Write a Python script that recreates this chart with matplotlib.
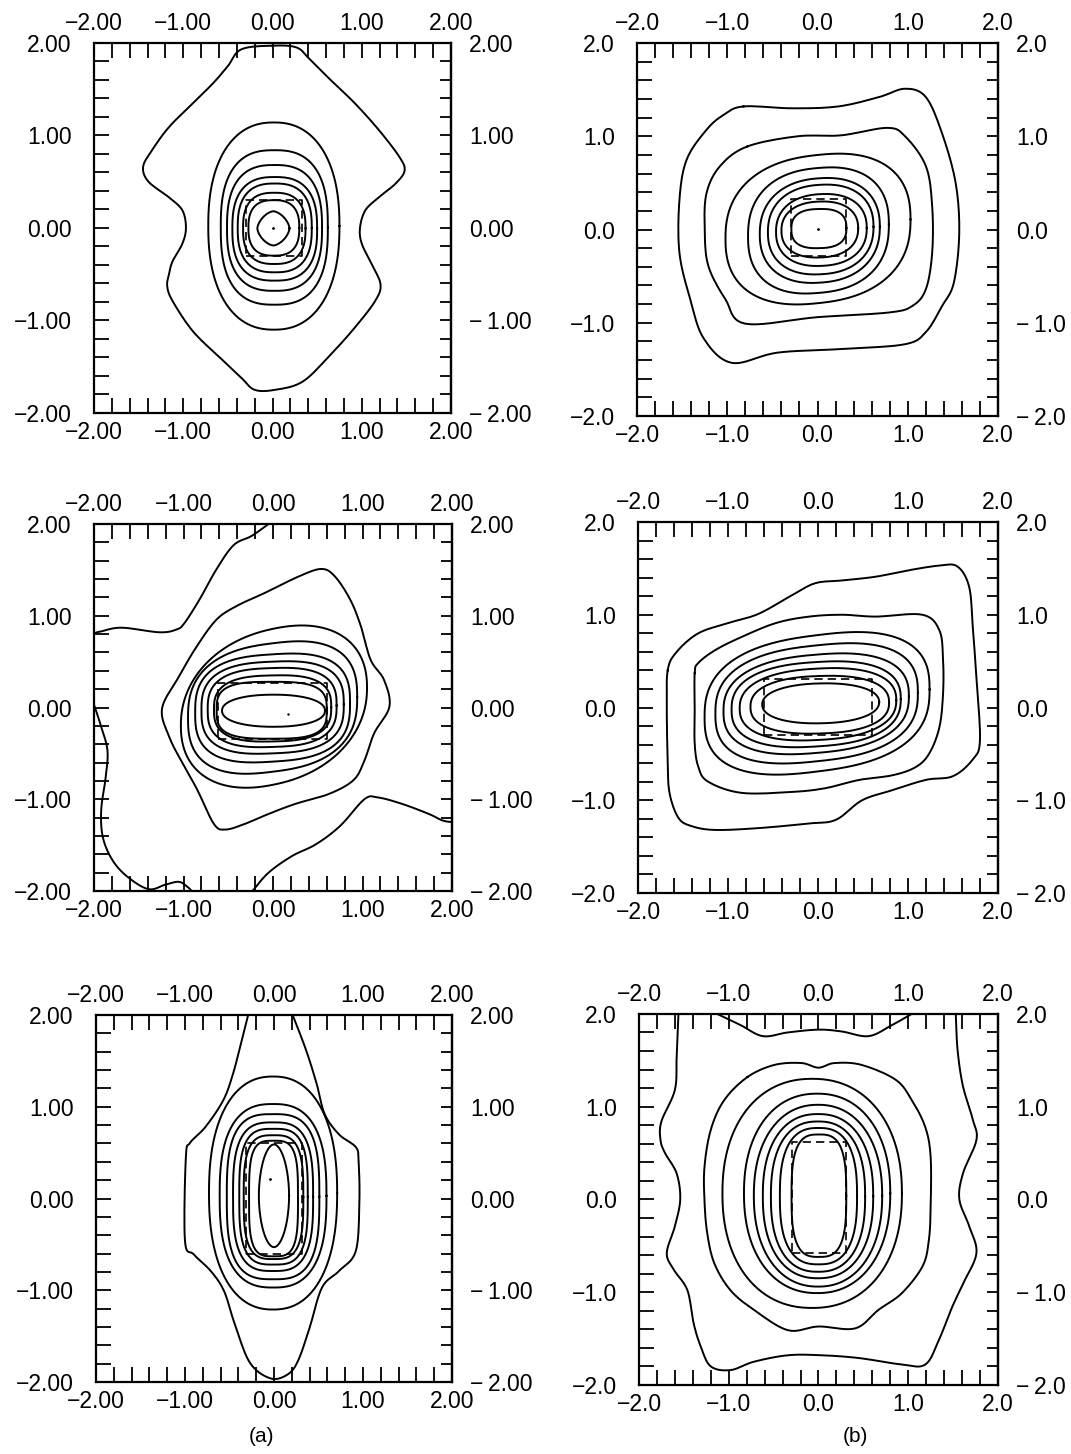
import numpy as np
import matplotlib.pyplot as plt

plt.rcParams['font.family'] = ['Liberation Sans', 'DejaVu Sans']

# ---- panel 1 (a, top) ----
a1_left = [-0.72, -0.58, -0.51, -0.45, -0.39, -0.33, -0.27, -0.17]
a1_right = [0.75, 0.62, 0.555, 0.50, 0.44, 0.37, 0.30, 0.19]
a1_top = [1.14, 0.84, 0.68, 0.55, 0.48, 0.38, 0.30, 0.18]
a1_bottom = [-1.10, -0.83, -0.68, -0.57, -0.48, -0.39, -0.30, -0.19]
a1_shear = [0, 0, 0, 0, 0, 0, 0, 0]
a1_power = [2.3, 2.6, 2.6, 2.6, 2.6, 2.6, 2.6, 1.6]
a1_outer_x = [0.0, -0.35, -0.50, -0.66, -0.89, -1.16, -1.35, -1.45, -1.39, -1.16, -1.01, -0.97,
              -1.01, -1.12, -1.16, -1.18, -1.12, -0.89, -0.58, -0.35, -0.20, 0.03, 0.34, 0.65,
              0.92, 1.15, 1.21, 1.11, 1.00, 0.98, 1.04, 1.19, 1.38, 1.48, 1.42, 1.19, 0.92, 0.65,
              0.42, 0.27]
a1_outer_y = [1.97, 1.93, 1.75, 1.57, 1.35, 1.09, 0.84, 0.66, 0.50, 0.33, 0.19, 0.0,
              -0.17, -0.36, -0.50, -0.63, -0.79, -1.12, -1.41, -1.62, -1.75, -1.75, -1.66, -1.37,
              -1.08, -0.79, -0.61, -0.39, -0.17, 0.0, 0.19, 0.33, 0.48, 0.62, 0.77, 1.06, 1.35, 1.60,
              1.82, 1.95]
a1_rect = [-0.30, 0.33, -0.30, 0.30]
a1_dot = [0.0, 0.0]

# ---- panel 2 (b, top) ----
a2_left = [-1.02, -0.77, -0.64, -0.55, -0.46, -0.40, -0.29]
a2_right = [1.03, 0.79, 0.69, 0.62, 0.545, 0.45, 0.32]
a2_top = [0.80, 0.66, 0.55, 0.48, 0.38, 0.30, 0.22]
a2_bottom = [-0.79, -0.68, -0.57, -0.48, -0.39, -0.30, -0.20]
a2_shear = [0.10, 0.08, 0.06, 0.05, 0.04, 0.03, 0.02]
a2_power = [2.4, 2.4, 2.3, 2.3, 2.3, 2.3, 2.6]
a2_outer_x = [-0.82, -0.28, 0.23, 0.68, 0.97, 1.20, 1.38, 1.53, 1.57, 1.51, 1.38, 1.20,
              0.97, 0.30, -0.44, -0.95, -1.26, -1.41, -1.53, -1.53, -1.45, -1.23, -1.04]
a2_outer_y = [1.32, 1.30, 1.32, 1.42, 1.51, 1.42, 1.03, 0.50, -0.04, -0.57, -0.82, -1.10,
              -1.23, -1.28, -1.32, -1.43, -1.17, -0.75, -0.25, 0.32, 0.75, 1.07, 1.23]
a2_second_x = [-0.78, -0.22, 0.26, 0.77, 0.97, 1.20, 1.27, 1.27, 1.20, 1.05, 0.79, 0.0,
               -0.80, -1.02, -1.21, -1.25, -1.23, -1.08]
a2_second_y = [0.89, 1.00, 1.01, 1.09, 1.00, 0.68, 0.25, -0.25, -0.64, -0.82, -0.89, -0.94,
               -1.01, -0.75, -0.39, 0.0, 0.39, 0.68]
a2_rect = [-0.29, 0.32, -0.28, 0.33]
a2_dot = [0.0, 0.01]

# ---- panel 3 (a, middle) ----
a3_left = [-1.03, -0.95, -0.87, -0.80, -0.73, -0.66, -0.63, -0.57]
a3_right = [1.05, 0.94, 0.86, 0.79, 0.71, 0.65, 0.60, 0.58]
a3_top = [0.86, 0.70, 0.58, 0.50, 0.43, 0.35, 0.28, 0.14]
a3_bottom = [-0.84, -0.70, -0.59, -0.50, -0.43, -0.37, -0.34, -0.21]
a3_shear = [0.20, 0.12, 0.06, 0.04, 0.03, 0.02, 0.0, 0.0]
a3_power = [2.2, 2.6, 2.8, 2.8, 2.8, 2.8, 3.2, 2.2]
a3_outer_x = [0.54, 0.29, -0.09, -0.40, -0.63, -0.85, -1.05, -1.24, -1.16, -1.01, -0.85, -0.66,
              -0.53, -0.32, -0.05, 0.25, 0.63, 0.90, 1.02, 1.13, 1.30, 1.24, 1.09, 0.98, 0.86, 0.69]
a3_outer_y = [1.51, 1.43, 1.25, 1.11, 0.96, 0.67, 0.34, -0.01, -0.32, -0.61, -0.89, -1.27,
              -1.33, -1.27, -1.16, -1.05, -0.94, -0.79, -0.58, -0.28, 0.01, 0.30, 0.52, 0.89, 1.18, 1.43]
a3_openA_x = [-2.0, -1.92, -1.69, -1.27, -1.08, -0.99, -0.82, -0.63, -0.44, -0.24, -0.05]
a3_openA_y = [0.81, 0.83, 0.87, 0.82, 0.85, 0.92, 1.18, 1.51, 1.77, 1.87, 2.0]
a3_openB_x = [-2.0, -1.92, -1.85, -1.87, -1.92, -1.90, -1.79, -1.62, -1.39, -1.20, -1.05, -0.95, -0.91]
a3_openB_y = [0.03, -0.21, -0.47, -0.76, -1.12, -1.42, -1.67, -1.85, -1.98, -1.93, -1.90, -1.96, -2.0]
a3_openC_x = [-0.23, -0.05, 0.21, 0.48, 0.75, 1.02, 1.17, 1.44, 1.74, 1.89, 2.0]
a3_openC_y = [-2.0, -1.80, -1.62, -1.49, -1.29, -1.00, -0.98, -1.05, -1.16, -1.23, -1.25]
a3_rect = [-0.62, 0.60, -0.34, 0.27]
a3_dot = [0.17, -0.07]

# ---- panel 4 (b, middle) ----
a4_left = [-1.26, -1.14, -1.05, -0.96, -0.87, -0.75, -0.62]
a4_right = [1.24, 1.11, 1.01, 0.92, 0.87, 0.79, 0.68]
a4_top = [0.78, 0.67, 0.57, 0.49, 0.42, 0.34, 0.26]
a4_bottom = [-0.69, -0.58, -0.49, -0.42, -0.35, -0.28, -0.17]
a4_shear = [0.12, 0.10, 0.08, 0.06, 0.05, 0.03, 0.02]
a4_power = [2.6, 2.6, 2.5, 2.5, 2.4, 2.4, 2.2]
a4_outer_x = [-1.67, -1.57, -1.33, -1.00, -0.66, -0.29, -0.03, 0.27, 0.64, 1.01, 1.35, 1.55,
              1.68, 1.72, 1.76, 1.80, 1.72, 1.50, 1.20, 0.83, 0.49, 0.20, -0.10, -0.66,
              -1.14, -1.40, -1.55, -1.65, -1.67, -1.68]
a4_outer_y = [0.40, 0.60, 0.80, 0.91, 1.01, 1.21, 1.34, 1.37, 1.41, 1.48, 1.53, 1.52,
              1.30, 0.87, 0.33, -0.35, -0.56, -0.74, -0.78, -0.89, -1.00, -1.21, -1.25, -1.30,
              -1.32, -1.28, -1.19, -0.92, -0.57, -0.03]
a4_second_x = [-1.37, -1.33, -1.14, -0.85, -0.47, -0.10, 0.27, 0.64, 1.16, 1.35, 1.39, 1.39,
               1.35, 1.24, 1.09, 0.83, 0.46, 0.08, -0.29, -0.85, -1.22, -1.33, -1.37, -1.37]
a4_second_y = [0.37, 0.48, 0.62, 0.76, 0.91, 0.98, 1.00, 0.98, 1.00, 0.83, 0.51, 0.15,
               -0.21, -0.49, -0.64, -0.73, -0.78, -0.87, -0.91, -0.92, -0.80, -0.64, -0.39, -0.03]
a4_rect = [-0.60, 0.60, -0.30, 0.31]

# ---- panel 5 (a, bottom) ----
a5_left = [-0.73, -0.61, -0.53, -0.46, -0.39, -0.34, -0.28, -0.17]
a5_right = [0.71, 0.59, 0.51, 0.44, 0.38, 0.33, 0.27, 0.17]
a5_top = [1.33, 1.03, 0.92, 0.83, 0.76, 0.69, 0.63, 0.59]
a5_bottom = [-1.21, -0.97, -0.88, -0.79, -0.72, -0.66, -0.63, -0.53]
a5_shear = [0, 0, 0, 0, 0, 0, 0, 0]
a5_power = [2.3, 2.6, 3.0, 3.0, 3.2, 3.2, 3.5, 1.9]
a5_open_x = [-0.29, -0.36, -0.46, -0.57, -0.77, -0.94, -0.99, -1.00, -0.90, -0.71, -0.56, -0.44,
             -0.27, -0.04, 0.15, 0.27, 0.40, 0.54, 0.73, 0.92, 0.96, 0.95, 0.92, 0.73, 0.57,
             0.48, 0.36, 0.21]
a5_open_y = [2.0, 1.73, 1.36, 1.07, 0.78, 0.61, 0.45, -0.46, -0.61, -0.79, -1.01, -1.37,
             -1.79, -1.96, -1.92, -1.77, -1.41, -0.97, -0.79, -0.57, -0.02, 0.41, 0.56, 0.70, 0.92,
             1.25, 1.62, 2.0]
a5_rect = [-0.31, 0.31, -0.61, 0.61]
a5_dot = [-0.04, 0.21]

# ---- panel 6 (b, bottom) ----
a6_left = [-1.07, -0.83, -0.72, -0.62, -0.53, -0.43, -0.30]
a6_right = [0.93, 0.80, 0.71, 0.61, 0.52, 0.43, 0.31]
a6_top = [1.30, 1.14, 1.02, 0.92, 0.84, 0.77, 0.70]
a6_bottom = [-1.17, -1.01, -0.94, -0.85, -0.78, -0.70, -0.62]
a6_shear = [0, 0, 0, 0, 0, 0, 0]
a6_power = [2.2, 2.2, 2.2, 2.3, 2.4, 2.6, 3.0]
a6_dip_x = [-0.79, -0.49, -0.19, 0.0, 0.18, 0.48, 0.86, 1.04, 1.19, 1.25, 1.25, 1.23, 1.16,
            0.93, 0.67, 0.41, 0.0, -0.34, -0.72, -0.98, -1.16, -1.24, -1.27, -1.27, -1.20, -1.05]
a6_dip_y = [1.32, 1.45, 1.47, 1.42, 1.47, 1.45, 1.29, 1.07, 0.78, 0.46, -0.08, -0.44, -0.72,
            -1.01, -1.19, -1.39, -1.37, -1.41, -1.19, -0.98, -0.69, -0.36, -0.01, 0.35, 0.75, 1.07]
a6_wave_x = [-1.56, -1.58, -1.60, -1.75, -1.76, -1.71, -1.58, -1.54, -1.60, -1.69, -1.61, -1.46,
             -1.39, -1.31, -1.20, -0.98, -0.72, -0.34, 0.03, 0.45, 0.93, 1.19, 1.34, 1.49,
             1.61, 1.76, 1.68, 1.57, 1.61, 1.76, 1.72, 1.61, 1.55, 1.53]
a6_wave_y = [2.0, 1.54, 1.18, 0.84, 0.64, 0.50, 0.28, 0.0, -0.29, -0.58, -0.76, -0.98,
             -1.34, -1.59, -1.80, -1.84, -1.75, -1.68, -1.68, -1.71, -1.78, -1.78, -1.52, -1.16,
             -0.91, -0.58, -0.29, 0.0, 0.28, 0.64, 0.86, 1.22, 1.61, 2.0]
a6_topdip_x = [-1.13, -0.87, -0.62, -0.34, 0.0, 0.26, 0.56, 0.82, 1.04]
a6_topdip_y = [2.0, 1.88, 1.76, 1.80, 1.83, 1.81, 1.76, 1.88, 2.0]
a6_rect = [-0.30, 0.31, -0.58, 0.62]

tick_major = [-2, -1, 0, 1, 2]
tick_minor = np.round(np.arange(-1.8, 1.81, 0.2), 1)


def smooth(xs, ys, closed=True, n=10):
    # Catmull-Rom curve through the read points
    p = np.column_stack([xs, ys]).astype(float)
    if closed:
        p = np.vstack([p[-1], p, p[0], p[1]])
    else:
        p = np.vstack([2 * p[0] - p[1], p, 2 * p[-1] - p[-2]])
    t = np.linspace(0, 1, n, endpoint=False)[:, None]
    out = []
    for i in range(1, len(p) - 2):
        p0, p1, p2, p3 = p[i - 1], p[i], p[i + 1], p[i + 2]
        out.append(0.5 * (2 * p1 + (p2 - p0) * t + (2 * p0 - 5 * p1 + 4 * p2 - p3) * t ** 2
                          + (3 * p1 - p0 - 3 * p2 + p3) * t ** 3))
    out.append(p[-2][None, :])
    out = np.vstack(out)
    return out[:, 0], out[:, 1]


def ring(left, right, top, bottom, shear, power):
    t = np.linspace(0, 2 * np.pi, 240)
    cx, cy = (left + right) / 2, (top + bottom) / 2
    rx, ry = (right - left) / 2, (top - bottom) / 2
    c, s = np.cos(t), np.sin(t)
    x = cx + rx * np.sign(c) * np.abs(c) ** (2 / power)
    y = cy + ry * np.sign(s) * np.abs(s) ** (2 / power) + shear * (x - cx)
    return x, y


def setup(ax, fmt):
    ax.set_xlim(-2, 2)
    ax.set_ylim(-2, 2)
    labels = [fmt.format(v).replace('-', '\u2212') for v in tick_major]
    rlabels = [l.replace('\u2212', '\u2212\u2009') for l in labels]
    ax.xaxis.remove_overlapping_locs = False
    ax.yaxis.remove_overlapping_locs = False
    ax.set_xticks(tick_major, labels=labels)
    ax.set_yticks(tick_major, labels=labels)
    ax.set_xticks(tick_minor, minor=True)
    ax.set_yticks(tick_minor, minor=True)
    ax.tick_params(which='major', length=0, labelsize=16.5)
    ax.tick_params(axis='x', which='major', labeltop=True, pad=6)
    ax.tick_params(axis='y', which='major', pad=16)
    ax.tick_params(which='minor', direction='in', length=11, width=1.3,
                   top=True, bottom=True, left=True, right=False)
    sec = ax.secondary_yaxis('right')
    sec.yaxis.remove_overlapping_locs = False
    sec.set_yticks(tick_major, labels=rlabels)
    sec.set_yticks(tick_minor, minor=True)
    sec.tick_params(which='major', length=0, pad=13, labelsize=16.5)
    sec.tick_params(which='minor', direction='in', length=8, width=1.3)
    sec.spines['right'].set_linewidth(1.6)
    for s in ax.spines.values():
        s.set_linewidth(1.6)


def draw_rings(ax, left, right, top, bottom, shear, power):
    for i in range(len(left)):
        x, y = ring(left[i], right[i], top[i], bottom[i], shear[i], power[i])
        ax.plot(x, y, color='black', lw=1.4)


def draw_rect(ax, r):
    ax.plot([r[0], r[1], r[1], r[0], r[0]], [r[2], r[2], r[3], r[3], r[2]],
            color='black', lw=1.2, linestyle=(0, (5, 3)))


fig = plt.figure(figsize=(10.71, 14.54), dpi=100)
ax1 = fig.add_axes([0.0878, 0.7160, 0.3333, 0.2545])
ax2 = fig.add_axes([0.5948, 0.7139, 0.3371, 0.2565])
ax3 = fig.add_axes([0.0878, 0.3872, 0.3343, 0.2524])
ax4 = fig.add_axes([0.5957, 0.3858, 0.3361, 0.2552])
ax5 = fig.add_axes([0.0896, 0.0495, 0.3324, 0.2524])
ax6 = fig.add_axes([0.5966, 0.0475, 0.3352, 0.2552])

for ax in (ax1, ax3, ax5):
    setup(ax, '{:.2f}')
for ax in (ax2, ax4, ax6):
    setup(ax, '{:.1f}')

# panel 1
draw_rings(ax1, a1_left, a1_right, a1_top, a1_bottom, a1_shear, a1_power)
ax1.plot(*smooth(a1_outer_x, a1_outer_y), color='black', lw=1.4)
draw_rect(ax1, a1_rect)
ax1.plot(*a1_dot, 'k.', ms=2)

# panel 2
draw_rings(ax2, a2_left, a2_right, a2_top, a2_bottom, a2_shear, a2_power)
ax2.plot(*smooth(a2_outer_x, a2_outer_y), color='black', lw=1.4)
ax2.plot(*smooth(a2_second_x, a2_second_y), color='black', lw=1.4)
draw_rect(ax2, a2_rect)
ax2.plot(*a2_dot, 'k.', ms=2)

# panel 3
draw_rings(ax3, a3_left, a3_right, a3_top, a3_bottom, a3_shear, a3_power)
ax3.plot(*smooth(a3_outer_x, a3_outer_y), color='black', lw=1.4)
for xs, ys in [(a3_openA_x, a3_openA_y), (a3_openB_x, a3_openB_y), (a3_openC_x, a3_openC_y)]:
    ax3.plot(*smooth(xs, ys, closed=False), color='black', lw=1.4)
draw_rect(ax3, a3_rect)
ax3.plot(*a3_dot, 'k.', ms=1.5)

# panel 4
draw_rings(ax4, a4_left, a4_right, a4_top, a4_bottom, a4_shear, a4_power)
ax4.plot(*smooth(a4_outer_x, a4_outer_y), color='black', lw=1.4)
ax4.plot(*smooth(a4_second_x, a4_second_y), color='black', lw=1.4)
draw_rect(ax4, a4_rect)

# panel 5
draw_rings(ax5, a5_left, a5_right, a5_top, a5_bottom, a5_shear, a5_power)
ax5.plot(*smooth(a5_open_x, a5_open_y, closed=False), color='black', lw=1.4)
draw_rect(ax5, a5_rect)
ax5.plot(*a5_dot, 'k.', ms=2)

# panel 6
draw_rings(ax6, a6_left, a6_right, a6_top, a6_bottom, a6_shear, a6_power)
ax6.plot(*smooth(a6_dip_x, a6_dip_y), color='black', lw=1.4)
ax6.plot(*smooth(a6_wave_x, a6_wave_y, closed=False), color='black', lw=1.4)
ax6.plot(*smooth(a6_topdip_x, a6_topdip_y, closed=False), color='black', lw=1.4)
draw_rect(ax6, a6_rect)

fig.text(262 / 1071, 1 - 1436 / 1454, '(a)', ha='center', va='center', fontsize=15)
fig.text(855 / 1071, 1 - 1436 / 1454, '(b)', ha='center', va='center', fontsize=15)

fig.savefig('out.png', dpi=100)
